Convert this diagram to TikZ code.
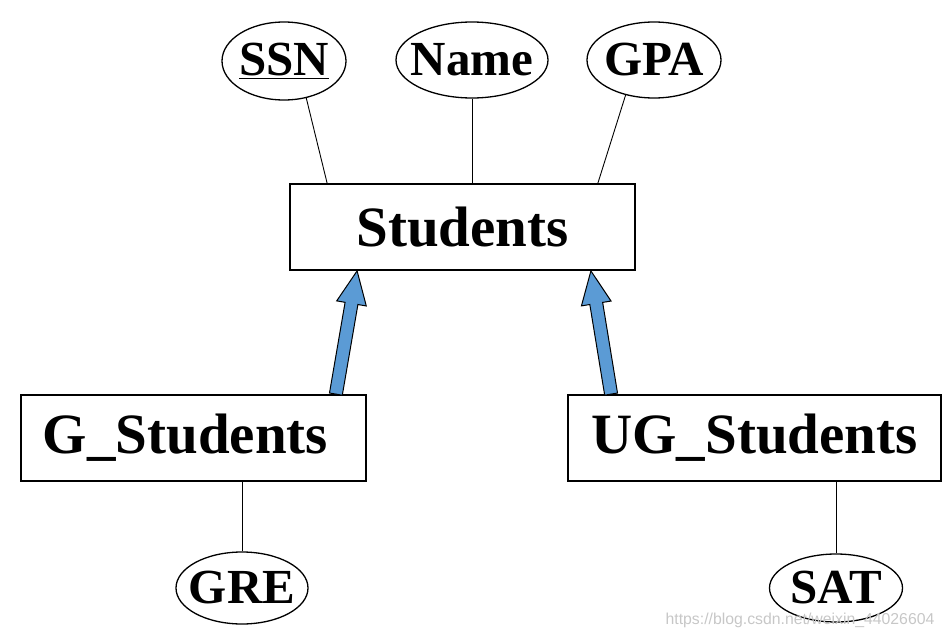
\documentclass[tikz,border=0pt]{standalone}
\usepackage{fontspec}
\setmainfont{Liberation Serif}
\setsansfont{Liberation Sans}
\usetikzlibrary{calc,shapes.geometric}
\definecolor{isablue}{RGB}{91,155,213}

\begin{document}
\begin{tikzpicture}[x=1pt, y=-1pt,
		entity/.style={draw, line width=1.8pt, minimum height=86pt, inner sep=0pt, font=\fontsize{57}{60}\selectfont\bfseries},
		attr/.style={draw, ellipse, line width=1.3pt, inner xsep=-12pt, inner ysep=0pt, font=\fontsize{49}{52}\selectfont\bfseries},
		link/.style={line width=0.9pt},
		isa/.style={fill=isablue, draw=black, line width=1pt, line join=miter}]
			\useasboundingbox (0,0) rectangle (946,637);
			% entities
			\node[entity, minimum width=345pt] (stud) at (462.5,227) {Students};
			\node[entity, minimum width=345pt] (gstud) at (193.5,438) {G\_Students\kern16pt};
			\node[entity, minimum width=373pt] (ugstud) at (754.5,438) {UG\_Students};
			% attributes
			\node[attr, minimum width=124pt, minimum height=78pt] (ssn) at (284,61) {\underline{SSN}};
			\node[attr, minimum width=152pt, minimum height=76pt] (name) at (472,60) {Name};
			\node[attr, minimum width=134pt, minimum height=76pt] (gpa) at (654,60) {GPA};
			\node[attr, minimum width=132pt, minimum height=72pt] (gre) at (242,588) {GRE};
			\node[attr, minimum width=133pt, minimum height=68pt] (sat) at (836,588) {SAT};
			\draw[link] (ssn.-59) -- ($(stud.north west)+(38,0)$);
			\draw[link] (name.south) -- (name.south |- stud.north);
			\draw[link] (gpa.-129) -- ($(stud.north east)+(-38,0)$);
			\draw[link] (gre.north) -- (gre.north |- gstud.south);
			\draw[link] (sat.north) -- (sat.north |- ugstud.south);
			% isa arrows
			\coordinate (t1) at ($(gstud.north east)+(-31,0)$);
			\coordinate (p1) at ($(stud.south west)+(68,0)$);
			\coordinate (t2) at ($(ugstud.north west)+(44,0)$);
			\coordinate (p2) at ($(stud.south east)+(-45,0)$);
			\foreach \t/\p in {t1/p1, t2/p2} {
				\coordinate (h) at ($(\p)!33pt!(\t)$);
				\filldraw[isa] ($(\t)!6.5pt!90:(\p)$) -- ($(h)!6.5pt!-90:(\t)$) -- ($(h)!15pt!-90:(\t)$) -- (\p)
					-- ($(h)!15pt!90:(\t)$) -- ($(h)!6.5pt!90:(\t)$) -- ($(\t)!6.5pt!-90:(\p)$) -- cycle;
			}
			\node[font=\sffamily\fontsize{15.8}{16}\selectfont, text=black!22] (wm) at (800,620) {https://blog.csdn.net/weixin\_44026604};
		\end{tikzpicture}
\end{document}
